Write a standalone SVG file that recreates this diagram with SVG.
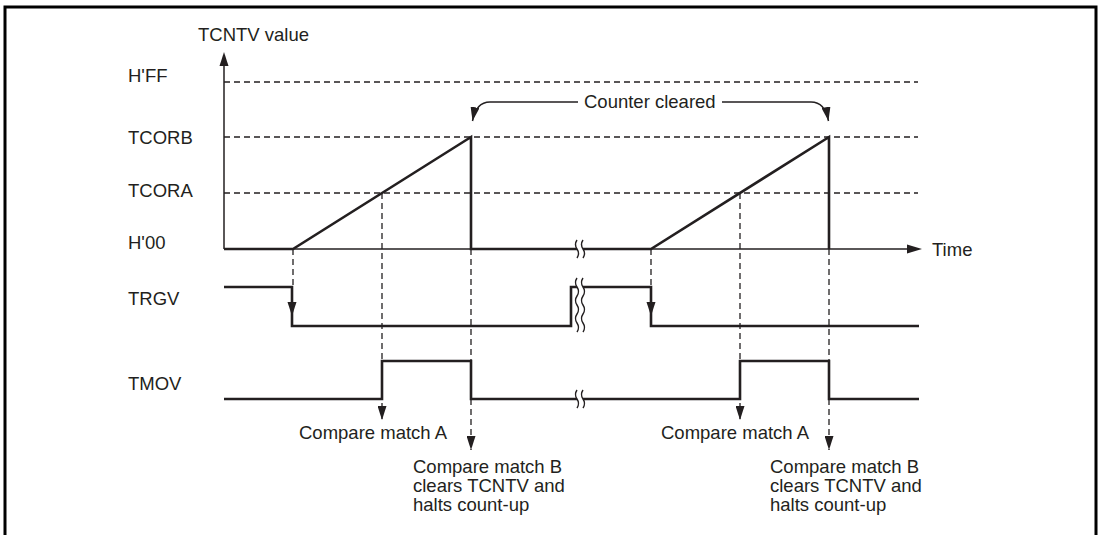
<svg xmlns="http://www.w3.org/2000/svg" width="1100" height="535" viewBox="0 0 1100 535">
<style>
text{font-family:"Liberation Sans",Arial,sans-serif;font-size:18.5px;fill:#231f20}
.thin{fill:none;stroke:#231f20;stroke-width:1.5}
.sig{fill:none;stroke:#231f20;stroke-width:2.6;stroke-linejoin:miter}
.dash{fill:none;stroke:#231f20;stroke-width:1.3;stroke-dasharray:6 4}
.wave{fill:none;stroke:#231f20;stroke-width:1.4}
.head{fill:#231f20}
</style>
<defs>
<marker id="ah" viewBox="0 0 14 9" refX="14" refY="4.5" markerWidth="14" markerHeight="9" markerUnits="userSpaceOnUse" orient="auto"><path d="M0,0 L14,4.5 L0,9 z" fill="#231f20"/></marker>
</defs>
<rect width="1100" height="535" fill="#fff"/>
<path d="M5,540 V7 H1096 V540" fill="none" stroke="#000" stroke-width="3"/>

<g id="labels">
<text x="198" y="41">TCNTV value</text>
<text x="128" y="82">H'FF</text>
<text x="128" y="144">TCORB</text>
<text x="128" y="197">TCORA</text>
<text x="128" y="249">H'00</text>
<text x="128" y="305">TRGV</text>
<text x="128" y="390">TMOV</text>
<text x="932" y="256">Time</text>
<text x="584" y="108">Counter cleared</text>
<text x="299" y="439">Compare match A</text>
<text x="661" y="439">Compare match A</text>
<text x="413" y="473">Compare match B</text>
<text x="413" y="492">clears TCNTV and</text>
<text x="413" y="511">halts count-up</text>
<text x="770" y="473">Compare match B</text>
<text x="770" y="492">clears TCNTV and</text>
<text x="770" y="511">halts count-up</text>
</g>

<g id="axes">
<path class="thin" d="M224,249 V60"/>
<path class="head" d="M224,52 L219.5,66 L228.5,66 z"/>
<path class="thin" d="M224,249 H912"/>
<path class="head" d="M922,249 L907,244.5 L907,253.5 z"/>
<path class="dash" d="M224,82 H918 M224,137 H918 M224,193 H918"/>
</g>

<g id="connectors">
<path class="dash" d="M293,249 V287"/>
<path class="dash" d="M651,249 V287"/>
<path class="dash" d="M382,193 V420" marker-end="url(#ah)"/>
<path class="dash" d="M740,193 V420" marker-end="url(#ah)"/>
<path class="dash" d="M471,249 V450" marker-end="url(#ah)"/>
<path class="dash" d="M829,249 V450" marker-end="url(#ah)"/>
<path class="thin" d="M578,102 H490 Q476,102 472.5,121" marker-end="url(#ah)"/>
<path class="thin" d="M722,102 H811 Q825,102 828.5,121" marker-end="url(#ah)"/>
</g>

<g id="counter">
<path class="sig" d="M224,249 H293 L471,137 V249 H651 L829,137 V249"/>
</g>

<g id="trgv">
<path class="sig" d="M224,287 H292 V326 H571 V287 H651 V326 H919"/>
<path class="head" d="M292,316 L287.5,302 L296.5,302 z"/>
<path class="head" d="M651,316 L646.5,302 L655.5,302 z"/>
</g>

<g id="tmov">
<path class="sig" d="M224,399 H382 V361 H471 V399 H740 V361 H829 V399 H919"/>
</g>

<g id="breaks">
<rect x="577" y="244" width="6" height="10" fill="#fff"/>
<path class="wave" d="M577,240 q-3,4.5 0,9 q3,4.5 0,9"/>
<path class="wave" d="M583,240 q-3,4.5 0,9 q3,4.5 0,9"/>
<rect x="577" y="280" width="6" height="50" fill="#fff"/>
<path class="wave" d="M577,278 q-3,4.5 0,9 q3,4.5 0,9 q-3,4.5 0,9 q3,4.5 0,9 q-3,4.5 0,9 q3,4.5 0,9"/>
<path class="wave" d="M583,278 q-3,4.5 0,9 q3,4.5 0,9 q-3,4.5 0,9 q3,4.5 0,9 q-3,4.5 0,9 q3,4.5 0,9"/>
<rect x="577" y="394" width="6" height="10" fill="#fff"/>
<path class="wave" d="M577,390 q-3,4.5 0,9 q3,4.5 0,9"/>
<path class="wave" d="M583,390 q-3,4.5 0,9 q3,4.5 0,9"/>
</g>
</svg>
